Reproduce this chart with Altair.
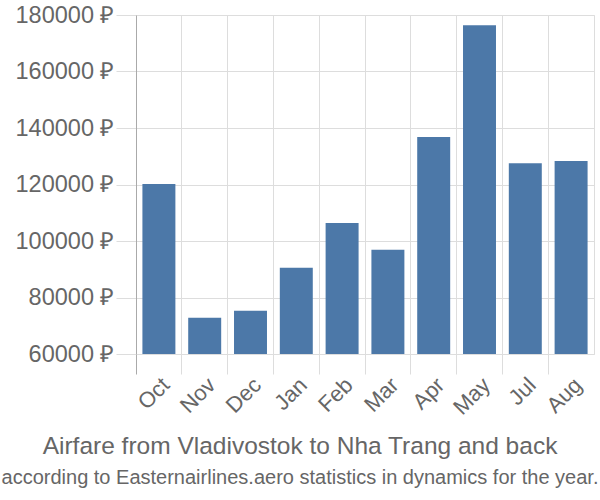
import altair as alt
import pandas as pd

months = ["Oct", "Nov", "Dec", "Jan", "Feb", "Mar", "Apr", "May", "Jul", "Aug"]
prices = [120200, 72800, 75300, 90500, 106400, 96900, 136800, 176400, 127500, 128300]
y_ticks = [60000, 80000, 100000, 120000, 140000, 160000, 180000]

df = pd.DataFrame({"month": months, "price": prices})

FONT = "Liberation Sans"
GREY = "#666666"

chart = alt.Chart(df).mark_bar(
    color="#4c78a8", width=alt.RelativeBandSize(0.72), clip=True
).encode(
    x=alt.X("month:N", sort=months, title=None,
            scale=alt.Scale(paddingInner=0, paddingOuter=0),
            axis=alt.Axis(bandPosition=0, labelAngle=-45,
                          labelAlign="right", labelBaseline="top",
                          labelFontSize=22, labelColor=GREY, labelFont=FONT,
                          tickSize=20,
                          tickColor={"condition": {"test": "datum.value === 'Oct'", "value": "#aaaaaa"},
                                     "value": "#dddddd"},
                          grid=True, gridColor="#dddddd", domain=False, labelPadding=0)),
    y=alt.Y("price:Q", title=None,
            scale=alt.Scale(domain=[60000, 180000], nice=False, zero=False),
            axis=alt.Axis(values=y_ticks, labelExpr="datum.value + ' ₽'",
                          labelFontSize=23.5, labelColor=GREY, labelFont=FONT,
                          tickSize=20, tickColor="#dddddd", grid=True,
                          gridColor="#dddddd", domainColor="#aaaaaa",
                          labelPadding=2)),
    y2=alt.Y2(datum=60000),
).properties(
    width=458, height=339,
    autosize=alt.AutoSizeParams(type="none"),
    padding={"left": 136, "top": 15, "right": 6, "bottom": 146},
    title=alt.TitleParams(
        text="Airfare from Vladivostok to Nha Trang and back",
        subtitle="according to Easternairlines.aero statistics in dynamics for the year.",
        orient="bottom", anchor="middle", fontSize=24.5, subtitleFontSize=20,
        color=GREY, subtitleColor=GREY, fontWeight="normal",
        font=FONT, subtitleFont=FONT, dx=-65, offset=17, subtitlePadding=8,
    ),
).configure_view(stroke="#dddddd")

chart.save("out.html", embed_options={"renderer": "svg", "actions": False})
